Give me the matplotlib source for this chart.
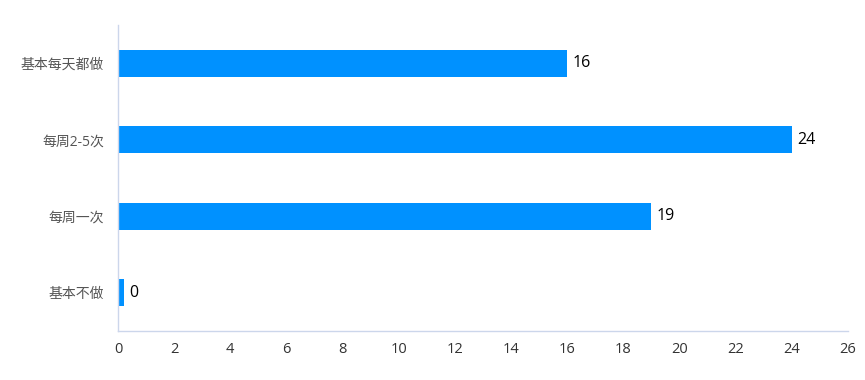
import matplotlib
matplotlib.use('Agg')
from matplotlib import pyplot as plt

plt.rcParams['font.family'] = ['Open Sans', 'Noto Sans CJK SC', 'DejaVu Sans']

categories = ['基本每天都做', '每周2-5次', '每周一次', '基本不做']
counts = [16, 24, 19, 0]
x_ticks = list(range(0, 27, 2))

BAR_COLOR = '#0091FF'
AXIS_COLOR = '#CCD6EB'

fig = plt.figure(figsize=(8.65, 3.8), dpi=100)
ax = fig.add_axes([0.1364, 0.129, 0.8436, 0.805])

y = list(range(len(categories)))[::-1]
# zero values still get a thin visible bar, like the original
shown = [max(c, 0.2) for c in counts]
ax.barh(y, shown, height=0.35, color=BAR_COLOR)

for yi, c, s in zip(y, counts, shown):
    ax.text(s + 0.2, yi, str(c), va='center', ha='left', fontsize=11.5, color='#000000')

ax.set_xlim(0, 26)
ax.set_ylim(-0.5, len(categories) - 0.5)
ax.set_xticks(x_ticks)
ax.set_yticks(y)
ax.set_yticklabels(categories)

for side in ['top', 'right']:
    ax.spines[side].set_visible(False)
for side in ['left', 'bottom']:
    ax.spines[side].set_color(AXIS_COLOR)
    ax.spines[side].set_linewidth(1)

ax.tick_params(axis='both', length=0)
ax.tick_params(axis='x', labelsize=10.5, labelcolor='#333333', pad=8)
ax.tick_params(axis='y', labelsize=10, labelcolor='#555555', pad=10)

fig.savefig('out.png', dpi=100)
